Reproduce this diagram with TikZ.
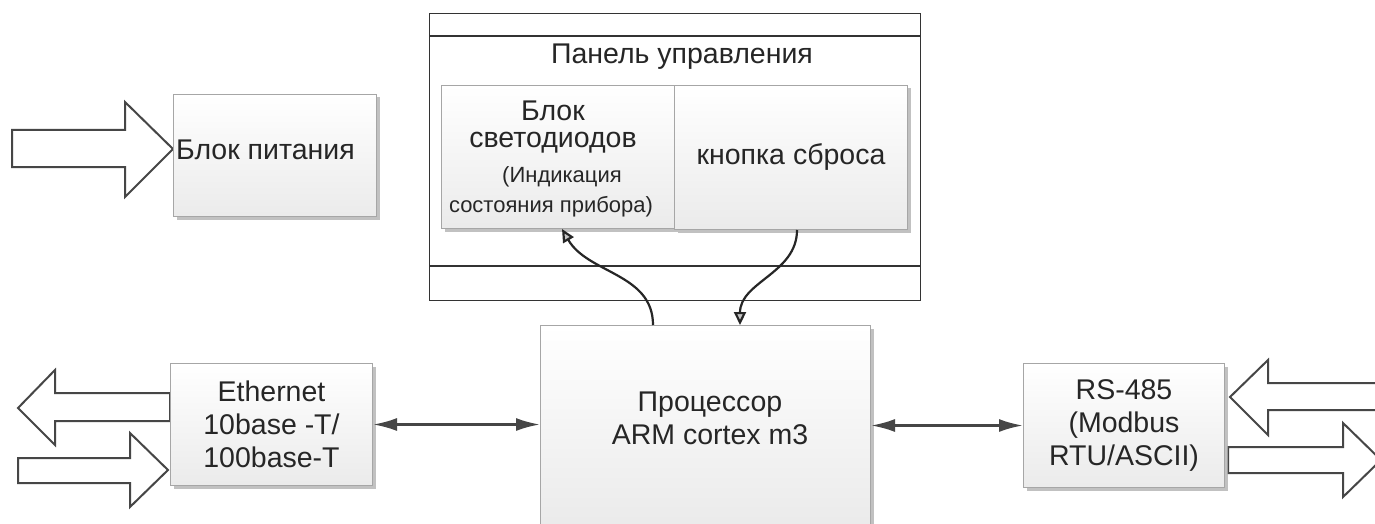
\documentclass[tikz,border=0pt]{standalone}
\usepackage{fontspec}
\setmainfont{Liberation Sans}
\usetikzlibrary{arrows.meta,shadows}
\begin{document}
\begin{tikzpicture}[x=1pt,y=-1pt,
  font=\fontsize{28.5}{33}\selectfont,
  blk/.style={draw=gray!70, line width=1pt, top color=white, bottom color=gray!16,
    drop shadow={shadow xshift=3pt,shadow yshift=-3pt,fill=gray!60,opacity=0.8},
    inner sep=0pt, anchor=north west, align=center, text=black!85},
  txt/.style={inner sep=0pt, text=black!85, align=center},
  smalltxt/.style={txt, font=\fontsize{22}{26}\selectfont},
  fat/.style={draw=gray!55!black, line width=2pt, fill=white, line join=miter},
  conn/.style={draw=gray!55!black, line width=2.5pt,
    {Latex[length=24pt,width=13pt]}-{Latex[length=24pt,width=13pt]}},
  curv/.style={draw=gray!30!black, line width=2.2pt,
    -{Triangle[length=13pt,width=12pt,fill=gray!45]}},
  panelbox/.style={draw=gray!40!black, line width=1.2pt, fill=white, inner sep=0pt, anchor=north west}
]
\fill[white] (0,0) rectangle (1375,524);
\useasboundingbox (0,0) rectangle (1375,524);

% block arrows
\draw[fat] (12,130) -- (125,130) -- (125,102) -- (173,149) -- (125,197) -- (125,167) -- (12,167) -- cycle;
\draw[fat] (170,393) -- (55,393) -- (55,370) -- (18,408) -- (55,445) -- (55,421) -- (170,421) -- cycle;
\draw[fat] (18,458) -- (130,458) -- (130,433) -- (168,470) -- (130,507) -- (130,483) -- (18,483) -- cycle;
\draw[fat] (1395,383) -- (1268,383) -- (1268,360) -- (1230,397) -- (1268,435) -- (1268,410) -- (1395,410) -- cycle;
\draw[fat] (1228,447) -- (1343,447) -- (1343,423) -- (1381,460) -- (1343,497) -- (1343,473) -- (1228,473) -- cycle;

% panel
\node[panelbox, minimum width=491pt, minimum height=287pt] (panel) at (429,13) {};
\coordinate (pl1) at (429,36);
\coordinate (pl2) at (429,266);
\draw[draw=gray!40!black, line width=1.2pt] (pl1) -- (pl1 -| panel.east);
\draw[draw=gray!40!black, line width=1.2pt] (pl2) -- (pl2 -| panel.east);
\node[txt] (ptitle) at (682,57) {Панель управления};

% power block
\node[blk, minimum width=203pt, minimum height=122pt] (pwr) at (173,94) {};
\node[txt, anchor=west] (pwrt) at (176,150) {Блок питания};

% LED block and reset
\node[blk, minimum width=233pt, minimum height=143pt] (led) at (441,85) {};
\node[txt] (ledt1) at (553,111) {Блок};
\node[txt] (ledt2) at (553,143) {светодиодов};
\node[smalltxt] (ledt3) at (562,177) {(Индикация};
\node[smalltxt] (ledt4) at (551,207) {состояния прибора)};
\node[blk, minimum width=233pt, minimum height=144pt] (reset) at (674,85) {кнопка сброса};

% processor
\node[blk, minimum width=330pt, minimum height=200pt] (proc) at (540,325) {};
\node[txt] (proct) at (710,418) {Процессор\\ARM cortex m3};

% ethernet and rs-485
\node[blk, minimum width=202pt, minimum height=122pt] (eth) at (170,363) {Ethernet\\10base -T/\\100base-T};
\node[blk, minimum width=201pt, minimum height=124pt] (rs) at (1023,363) {RS-485\\(Modbus\\RTU/ASCII)};

% connectors
\draw[conn] (eth.east) -- (eth.east -| proc.west);
\draw[conn] (proc.east |- rs.west) -- (rs.west);
\draw[curv] ([xshift=113pt]proc.north west) to[out=90,in=-60] ([xshift=121pt]led.south west);
\draw[curv] ([xshift=123pt]reset.south west) to[out=-90,in=90] ([xshift=200pt]proc.north west);
\end{tikzpicture}
\end{document}
